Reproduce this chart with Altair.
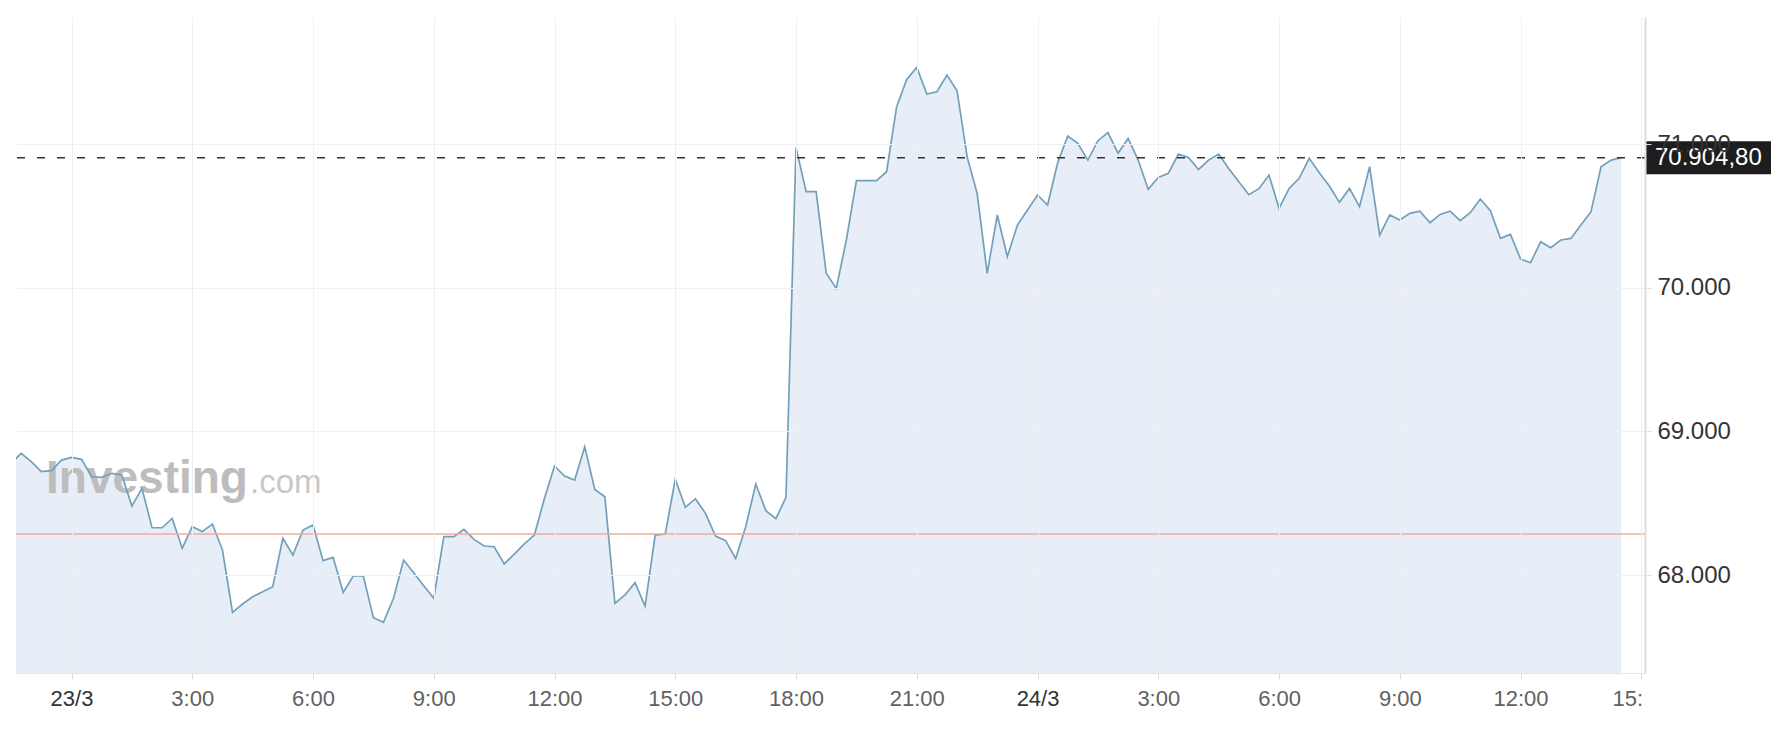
import altair as alt
import pandas as pd

# ---- data ----
start_time = "2024-03-22T22:30:00Z"
step = "15min"
prices = [
    68777, 68847, 68789, 68719, 68726, 68800, 68819, 68805, 68684, 68680,
    68708, 68696, 68480, 68603, 68329, 68329, 68394, 68186, 68336, 68302,
    68355, 68174, 67740, 67798, 67849, 67884, 67919, 68255, 68139, 68313,
    68348, 68100, 68123, 67879, 67993, 67993, 67703, 67671, 67838, 68104,
    68016, 67926, 67838, 68267, 68267, 68318, 68248, 68202, 68197, 68077,
    68146, 68216, 68278, 68534, 68759, 68689, 68661, 68893, 68596, 68545,
    67803, 67861, 67947, 67784, 68278, 68285, 68666, 68471, 68531, 68429,
    68271, 68239, 68114, 68336, 68633, 68448, 68392, 68541, 70976, 70668,
    70668, 70100, 69995, 70332, 70745, 70745, 70745, 70807, 71260, 71450,
    71533, 71348, 71364, 71480, 71371, 70912, 70656, 70100, 70506, 70216,
    70436, 70540, 70645, 70575, 70870, 71055, 71004, 70888, 71023, 71079,
    70935, 71039, 70888, 70684, 70768, 70796, 70930, 70907, 70823, 70888,
    70930, 70830, 70738, 70647, 70689, 70784, 70552, 70691, 70761, 70900,
    70800, 70707, 70594, 70691, 70564, 70842, 70366, 70506, 70471, 70517,
    70533, 70452, 70510, 70533, 70466, 70522, 70617, 70536, 70343, 70371,
    70199, 70174, 70320, 70278, 70332, 70343, 70436, 70529, 70842, 70888,
    70904.80,
]
prev_close = [68285]
last_price = [70904.80]
last_label = ["70.904,80"]
tick_times = [
    "2024-03-23T00:00:00Z", "2024-03-23T03:00:00Z", "2024-03-23T06:00:00Z",
    "2024-03-23T09:00:00Z", "2024-03-23T12:00:00Z", "2024-03-23T15:00:00Z",
    "2024-03-23T18:00:00Z", "2024-03-23T21:00:00Z", "2024-03-24T00:00:00Z",
    "2024-03-24T03:00:00Z", "2024-03-24T06:00:00Z", "2024-03-24T09:00:00Z",
    "2024-03-24T12:00:00Z", "2024-03-24T15:00:00Z",
]
y_ticks = [68000, 69000, 70000, 71000]
x_domain = ["2024-03-22T22:37:15Z", "2024-03-24T15:05:30Z"]
y_domain = [67318, 71884]
watermark_main = ["Investing"]
watermark_suffix = [".com"]

# ---- tables ----
times = pd.date_range(start=pd.Timestamp(start_time), periods=len(prices), freq=step)
df = pd.DataFrame({"t": times.strftime("%Y-%m-%dT%H:%M:%SZ"), "v": prices})
tick_ms = [int(pd.Timestamp(t).value // 10**6) for t in tick_times]
xdom_ms = [int(pd.Timestamp(t).value // 10**6) for t in x_domain]

W, H = 1629, 656
FONT = "Liberation Sans"

xscale = alt.Scale(type="utc", domain=xdom_ms)
yscale = alt.Scale(domain=y_domain, nice=False, zero=False)

last_tick_test = "utcFormat(datum.value, '%d %H') == '24 15'"
date_test = "utcFormat(datum.value, '%H') == '00'"

xaxis = alt.Axis(
    values=tick_ms,
    labelExpr=(
        f"{last_tick_test} ? '15:' : ({date_test} ? utcFormat(datum.value, '%-d/%-m') "
        ": utcFormat(datum.value, '%-H:%M'))"
    ),
    title=None,
    grid=True, gridColor="#eef0f3", gridWidth=1,
    ticks=True, tickColor="#dddddd", tickSize=6,
    domain=True, domainColor="#e6e6e6",
    labelFont=FONT, labelFontSize=22, labelPadding=9,
    labelColor={"condition": {"test": date_test, "value": "#333333"}, "value": "#616161"},
    labelOffset={"condition": {"test": last_tick_test, "value": -14}, "value": 0},
    labelFlush=False, labelOverlap=False, zindex=1,
)
yaxis = alt.Axis(
    orient="right", values=y_ticks,
    labelExpr="replace(format(datum.value, ',.0f'), ',', '.')",
    title=None,
    grid=True, gridColor="#eef0f3", gridWidth=1,
    ticks=True, tickColor="#dddddd", tickSize=6,
    domain=True, domainColor="#dedede", domainWidth=2,
    labelFont=FONT, labelFontSize=24, labelColor="#333333", labelPadding=6,
    labelOverlap=False, labelFlush=False, zindex=1,
)

base = alt.Chart(df)
X = alt.X("t:T", scale=xscale, axis=xaxis)

area = base.mark_area(color="#e8eef7", clip=True).encode(
    x=X,
    y=alt.Y("v:Q", scale=yscale, axis=yaxis),
    y2=alt.Y2(datum=y_domain[0]),
)

wm1 = alt.Chart(pd.DataFrame({"txt": watermark_main})).mark_text(
    font=FONT, fontSize=46, fontWeight="bold", color="#bdbdbd",
    align="left", baseline="alphabetic",
).encode(x=alt.value(30), y=alt.value(476), text="txt:N")
wm2 = alt.Chart(pd.DataFrame({"txt": watermark_suffix})).mark_text(
    font=FONT, fontSize=33, color="#c8c8c8",
    align="left", baseline="alphabetic",
).encode(x=alt.value(234), y=alt.value(476), text="txt:N")

line = base.mark_line(color="#73a0b9", strokeWidth=1.7, clip=True).encode(
    x=X,
    y=alt.Y("v:Q", scale=yscale, axis=yaxis),
)

prev_rule = alt.Chart(pd.DataFrame({"v": prev_close})).mark_rule(
    color="#f2aa9e", strokeWidth=1.5
).encode(y=alt.Y("v:Q", scale=yscale, axis=yaxis))

last_rule = alt.Chart(pd.DataFrame({"v": last_price})).mark_rule(
    color="#333333", strokeWidth=1.5, strokeDash=[8, 12]
).encode(y=alt.Y("v:Q", scale=yscale, axis=yaxis))

lab_df = pd.DataFrame({"v": last_price, "lab": last_label})
box = alt.Chart(lab_df).mark_rect(
    color="#1e1e1e", yOffset=-16.5, y2Offset=16.5, clip=False
).encode(
    x=alt.value(W + 1), x2=alt.value(W + 126),
    y=alt.Y("v:Q", scale=yscale, axis=yaxis), y2="v:Q",
)
box_text = alt.Chart(lab_df).mark_text(
    font=FONT, fontSize=24, color="white", align="left", baseline="middle", clip=False
).encode(
    x=alt.value(W + 10),
    y=alt.Y("v:Q", scale=yscale, axis=yaxis),
    text="lab:N",
)

chart = alt.layer(
    area, wm1, wm2, line, prev_rule, last_rule, box, box_text
).properties(
    width=W, height=H,
    autosize=alt.AutoSizeParams(type="none"),
    padding={"left": 8, "top": 9, "right": 135, "bottom": 55},
    background="white",
).configure(font=FONT).configure_view(stroke=None, strokeWidth=0)

chart.save("out.html", embed_options={"renderer": "svg", "actions": False})
